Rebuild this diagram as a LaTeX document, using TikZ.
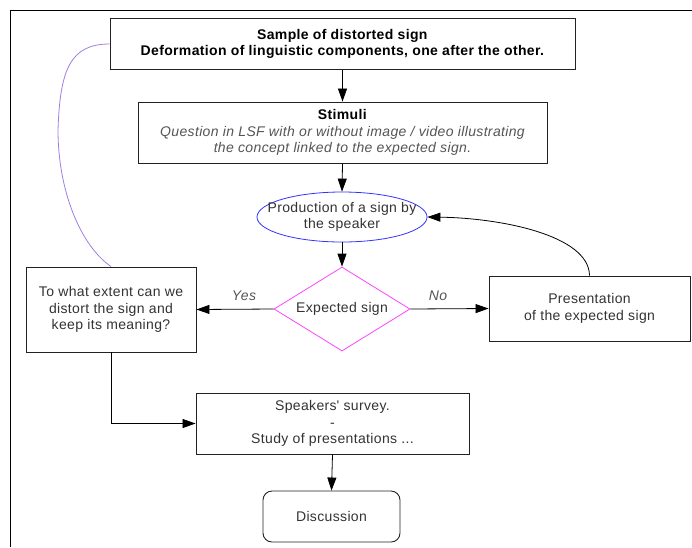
\documentclass[tikz,border=0pt]{standalone}
\usepackage{fontspec}
\setmainfont{Liberation Sans}[LetterSpace=2.5]
\usetikzlibrary{shapes.geometric,arrows.meta}
\definecolor{txt}{HTML}{333333}
\definecolor{itx}{HTML}{555555}
\definecolor{edge}{HTML}{222222}
\definecolor{ellc}{HTML}{3333FF}
\definecolor{diac}{HTML}{FF44FF}
\definecolor{purp}{HTML}{A07FE0}
\begin{document}
\begin{tikzpicture}[x=1pt,y=-1pt,
  every node/.style={font=\fontsize{14}{16.5}\selectfont, text=txt, align=center, inner sep=0pt},
  box/.style={draw=edge, line width=0.9pt, rectangle},
  conn/.style={draw=black, line width=0.8pt, -{Triangle[length=13pt,width=9pt]}},
  lbl/.style={font=\fontsize{14}{16.5}\selectfont\itshape, text=itx}
]
\useasboundingbox (0,0) rectangle (692,547);
\fill[white] (0,0) rectangle (692,547);
\draw[line width=1pt, draw=black] (10,547) -- (10,10) -- (692,10);

\node[box, minimum width=465pt, minimum height=51pt, text=black] (s) at (342.5,44)
  {\textbf{Sample of distorted sign}\\\textbf{Deformation of linguistic components, one after the other.}};
\node[box, minimum width=409pt, minimum height=61pt] (st) at (342.5,132.5)
  {\textcolor{black}{\textbf{Stimuli}}\\\textcolor{itx}{\itshape Question in LSF with or without image / video illustrating}\\\textcolor{itx}{\itshape the concept linked to the expected sign.}};
\node[ellipse, draw=ellc, line width=0.8pt, minimum width=170pt, minimum height=50pt] (pd) at (342,217) {};
\node (pdt) at (pd.center) {Production of a sign by\\the speaker};
\node[diamond, draw=diac, line width=0.8pt, aspect=1.62, minimum width=136pt, minimum height=84pt] (ex) at (342,309)
  {Expected sign};
\node[box, minimum width=170pt, minimum height=85pt] (q) at (111,309.5)
  {To what extent can we\\distort the sign and\\keep its meaning?};
\node[box, minimum width=201pt, minimum height=65pt] (pr) at (589.5,308.5)
  {Presentation\\of the expected sign};
\node[box, minimum width=273pt, minimum height=61pt] (sv) at (332.5,423.5)
  {Speakers\textquotesingle\ survey.\\-\\Study of presentations ...};
\node[box, rounded corners=9pt, minimum width=137pt, minimum height=51pt] (ds) at (331.5,516.5)
  {Discussion};

\node[lbl] (yes) at (244,296) {Yes};
\node[lbl] (no) at (438,296) {No};

\draw[conn] (s.south) -- (st.north);
\draw[conn] (st.south) -- (pd.north);
\draw[conn] (pd.south) -- (ex.north);
\draw[conn] (ex.west) -- (q.east);
\draw[conn] (ex.east) -- (pr.west);
\draw[conn] (pr.north) .. controls (589,235) and (500,218) .. (pd.east);
\draw[conn] (q.south) |- (sv.west);
\draw[conn] (sv.south) -- (ds.north);
\draw[draw=purp, line width=0.8pt] (s.west) .. controls (70,44) and (60,70) .. (58,130)
  .. controls (58,190) and (80,245) .. (q.north);
\end{tikzpicture}
\end{document}
